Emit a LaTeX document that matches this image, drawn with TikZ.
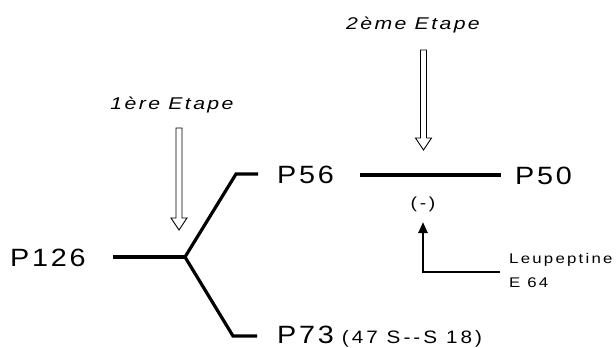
\documentclass[tikz,border=0pt]{standalone}
\usepackage{fontspec}
\setmainfont{Liberation Sans}
\usetikzlibrary{arrows.meta}
\begin{document}
\begin{tikzpicture}[x=1pt,y=-1pt,
  big/.style={font=\fontsize{25}{25}\selectfont\addfontfeature{FakeStretch=1.15,LetterSpace=11}, inner sep=0pt, anchor=west},
  stage/.style={font=\fontsize{17}{17}\selectfont\itshape\addfontfeature{FakeStretch=1.25,LetterSpace=14}, inner sep=0pt},
  small/.style={font=\fontsize{14}{14}\selectfont\addfontfeature{FakeStretch=1.2,LetterSpace=16}, inner sep=0pt, anchor=west},
  bar/.style={line width=4.2pt},
  branch/.style={line width=3.2pt, line join=miter},
  hollow/.style={line width=0.9pt, fill=white, line join=miter},
  inh/.style={line width=2.4pt, -{Triangle[length=11pt,width=9pt]}}]
\useasboundingbox (0,0) rectangle (616,348);

% labels
\node[stage] (e1) at (172,105) {1ère Etape};
\node[stage] (e2) at (413,25) {2ème Etape};
\node[big] (p126) at (10,258) {P126};
\node[big] (p56) at (277,175) {P56};
\node[big] (p50) at (515,176) {P50};
\node[big] (p73) at (277,337) {P73\hspace{8pt}{\fontsize{18}{18}\selectfont\addfontfeature{LetterSpace=17}(47 S-{}-S 18)}};
\node[font=\fontsize{16}{16}\selectfont\addfontfeature{FakeStretch=1.2,LetterSpace=17}, inner sep=0pt] (minus) at (423,204) {(-)};
\node[small] (leu) at (509,260) {Leupeptine};
\node[small] (e64) at (509,283) {E 64};

% first cleavage
\coordinate (b1) at (113,257);
\coordinate (j) at (185,257);
\coordinate (u1) at (236,174);
\coordinate (u2) at (258,174);
\coordinate (l1) at (233,336);
\coordinate (l2) at (257,336);
\draw[bar] (b1) -- (j);
\draw[branch] (u2) -- (u1) -- (j) -- (l1) -- (l2);

% second cleavage
\coordinate (b2a) at (360,175);
\coordinate (b2b) at (501,175);
\draw[bar] (b2a) -- (b2b);

% hollow arrows
\draw[hollow] (176,128) -- (182,128) -- (182,218) -- (187,218) -- (179,230) -- (171,218) -- (176,218) -- cycle;
\draw[hollow] (420.5,50) -- (426.5,50) -- (426.5,138) -- (431.5,138) -- (423.5,150) -- (415.5,138) -- (420.5,138) -- cycle;

% inhibitor arrow
\coordinate (i0) at (500,272);
\coordinate (ic) at (423,272);
\coordinate (it) at (423,222);
\draw[inh] (i0) -- (ic) -- (it);
\end{tikzpicture}
\end{document}
